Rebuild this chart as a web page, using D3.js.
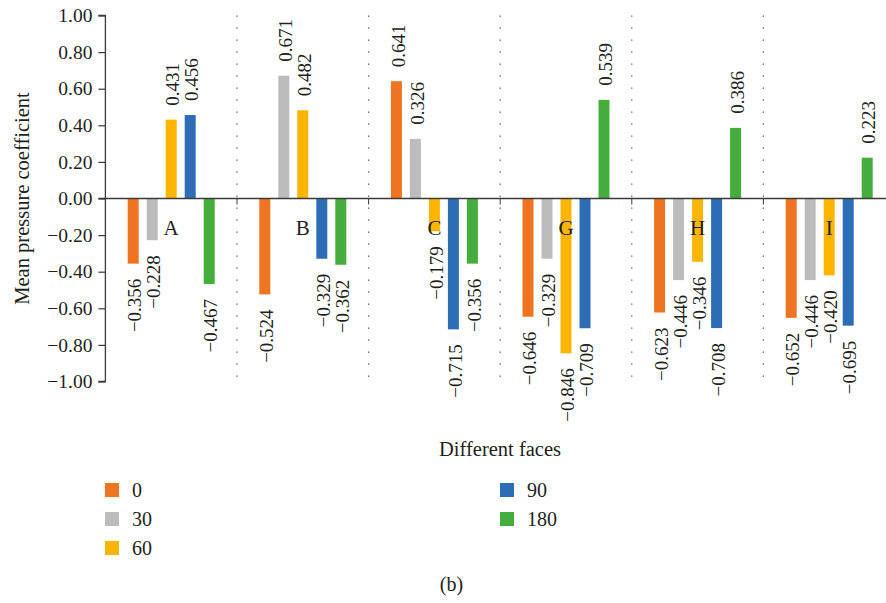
<!DOCTYPE html>
<html>
<head>
<meta charset="utf-8">
<script src="https://cdn.jsdelivr.net/npm/d3@7"></script>
<style>
  html, body { margin: 0; padding: 0; background: #fff; }
  svg { display: block; }
  text { font-family: "Liberation Serif", "DejaVu Serif", serif; fill: #231f20; }
</style>
</head>
<body>
<svg id="chart" width="886" height="603"></svg>
<script>
// Faces of the model and wind angles (degrees)
const faces = ["A", "B", "C", "G", "H", "I"];
const angles = ["0", "30", "60", "90", "180"];

// Mean pressure coefficient per angle, one value per face
const cp0   = [-0.356, -0.524,  0.641, -0.646, -0.623, -0.652];
const cp30  = [-0.228,  0.671,  0.326, -0.329, -0.446, -0.446];
const cp60  = [ 0.431,  0.482, -0.179, -0.846, -0.346, -0.420];
const cp90  = [ 0.456, -0.329, -0.715, -0.709, -0.708, -0.695];
const cp180 = [-0.467, -0.362, -0.356,  0.539,  0.386,  0.223];

const yTicks = [-1.0, -0.8, -0.6, -0.4, -0.2, 0, 0.2, 0.4, 0.6, 0.8, 1.0];
const colors = ["#ee7421", "#bcbcbc", "#fdb500", "#2d6db5", "#45ad3b"];

const seriesValues = [cp0, cp30, cp60, cp90, cp180];
const rows = [];
faces.forEach((f, i) => {
  angles.forEach((a, j) => rows.push({ face: f, angle: a, value: seriesValues[j][i] }));
});

const svg = d3.select("#chart");
const plotL = 105.4, plotR = 895, plotT = 15.5, plotB = 381.5;

const x = d3.scaleBand().domain(faces).range([plotL, plotR]).padding(0);
const xs = d3.scaleBand().domain(angles).range([0, 87]).paddingInner(5 - 87 / 19);
const y = d3.scaleLinear().domain([-1, 1]).range([plotB, plotT]);
const color = d3.scaleOrdinal().domain(angles).range(colors);

const groupStart = f => x(f) + x.bandwidth() / 2 - 43.5;

// dotted separators between faces
svg.append("g")
  .selectAll("line")
  .data(faces.slice(1))
  .join("line")
  .attr("x1", f => x(f)).attr("x2", f => x(f))
  .attr("y1", plotT).attr("y2", plotB - 3)
  .attr("stroke", "#444")
  .attr("stroke-width", 1.2)
  .attr("stroke-dasharray", "1.2,10.8");

// bars
svg.append("g")
  .selectAll("rect")
  .data(rows)
  .join("rect")
  .attr("x", d => groupStart(d.face) + xs(d.angle))
  .attr("width", xs.bandwidth())
  .attr("y", d => Math.min(y(d.value), y(0)))
  .attr("height", d => Math.abs(y(d.value) - y(0)))
  .attr("fill", d => color(d.angle));

// zero line with small ticks at face boundaries
svg.append("line")
  .attr("x1", plotL - 7).attr("x2", 886)
  .attr("y1", y(0)).attr("y2", y(0))
  .attr("stroke", "#3a3a3a").attr("stroke-width", 1.3);
svg.append("g")
  .selectAll("line")
  .data(faces.slice(1))
  .join("line")
  .attr("x1", f => x(f)).attr("x2", f => x(f))
  .attr("y1", y(0)).attr("y2", y(0) + 6)
  .attr("stroke", "#3a3a3a").attr("stroke-width", 1);

// y axis
const yAxis = d3.axisLeft(y)
  .tickValues(yTicks)
  .tickSize(7)
  .tickPadding(6)
  .tickFormat(d => d3.format(".2f")(d).replace("-", "\u2212"));
const ya = svg.append("g").attr("transform", `translate(${plotL},0)`).call(yAxis);
ya.select(".domain").attr("stroke", "#3a3a3a").attr("stroke-width", 1.3)
  .attr("d", `M-7,${plotT}H0V${plotB}H-7`);
ya.selectAll(".tick line").attr("stroke", "#3a3a3a").attr("stroke-width", 1.2);
ya.selectAll(".tick text")
  .style("font-family", '"Liberation Serif", serif')
  .style("font-size", "19.5px")
  .attr("fill", "#231f20");

// value labels, rotated
const fmt = v => d3.format(".3f")(v).replace("-", "\u2212");
svg.append("g")
  .selectAll("text")
  .data(rows)
  .join("text")
  .attr("transform", d => {
    const cx = groupStart(d.face) + xs(d.angle) + xs.bandwidth() / 2 + 1.5;
    const yy = d.value >= 0 ? y(d.value) - 14 : y(d.value) + 15;
    return `translate(${cx},${yy}) rotate(-90)`;
  })
  .attr("dy", "0.35em")
  .attr("text-anchor", d => d.value >= 0 ? "start" : "end")
  .style("font-size", "19px")
  .text(d => fmt(d.value));

// face names near the zero line
svg.append("g")
  .selectAll("text")
  .data(faces)
  .join("text")
  .attr("x", f => x(f) + x.bandwidth() / 2)
  .attr("y", 235)
  .attr("text-anchor", "middle")
  .style("font-size", "21px")
  .text(f => f);

// axis titles
svg.append("text")
  .attr("transform", `translate(28.5,${(plotT + plotB) / 2}) rotate(-90)`)
  .attr("text-anchor", "middle")
  .style("font-size", "20.5px")
  .text("Mean pressure coefficient");

svg.append("text")
  .attr("x", 500).attr("y", 456)
  .attr("text-anchor", "middle")
  .style("font-size", "20.5px")
  .text("Different faces");

// legend
const legendPos = [
  { x: 105, y: 490 }, { x: 105, y: 519 }, { x: 105, y: 548 },
  { x: 500, y: 490 }, { x: 500, y: 519 }
];
const lg = svg.append("g")
  .selectAll("g")
  .data(angles)
  .join("g")
  .attr("transform", (a, i) => `translate(${legendPos[i].x},${legendPos[i].y})`);
lg.append("rect")
  .attr("x", 0).attr("y", -7).attr("width", 14).attr("height", 14)
  .attr("fill", a => color(a));
lg.append("text")
  .attr("x", 27).attr("y", 0).attr("dy", "0.35em")
  .style("font-size", "20px")
  .text(a => a);

svg.append("text")
  .attr("x", 451.5).attr("y", 591)
  .attr("text-anchor", "middle")
  .style("font-size", "20px")
  .text("(b)");
</script>
</body>
</html>
